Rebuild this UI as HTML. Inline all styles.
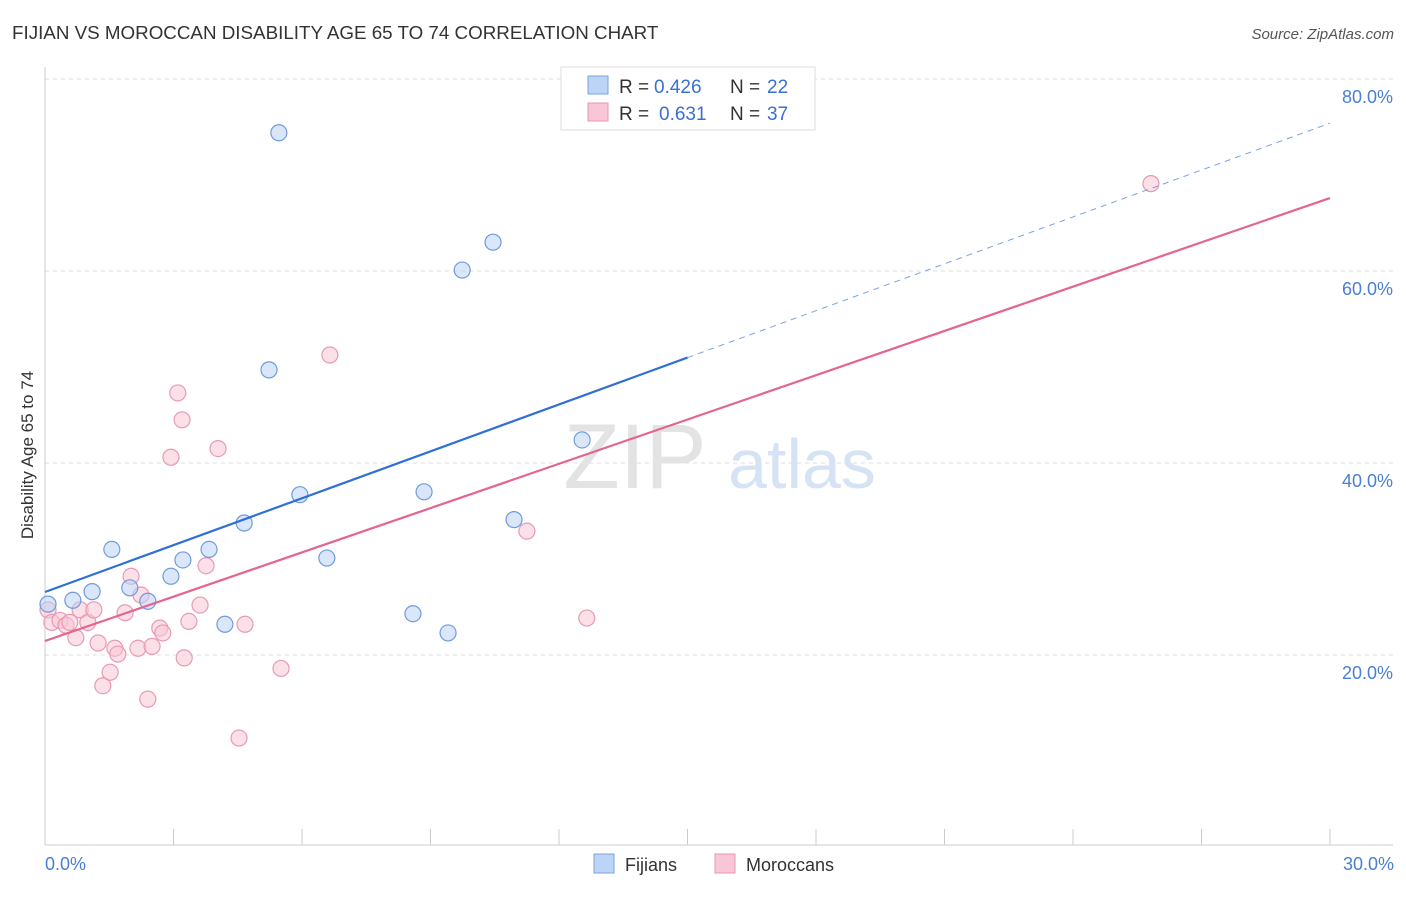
<!DOCTYPE html>
<html><head><meta charset="utf-8"><style>
body{margin:0;background:#fff;font-family:"Liberation Sans",sans-serif}
svg text{font-family:"Liberation Sans",sans-serif}
</style></head><body>
<svg id="chart" width="1406" height="892" xmlns="http://www.w3.org/2000/svg">
<text x="12" y="39" font-size="18.8" fill="#333">FIJIAN VS MOROCCAN DISABILITY AGE 65 TO 74 CORRELATION CHART</text>
<text x="1394" y="39" font-size="15" fill="#555" font-style="italic" text-anchor="end">Source: ZipAtlas.com</text>
<g id="grid"></g>
<text x="635" y="488" font-size="92" fill="#e3e3e3" font-family="Liberation Serif" text-anchor="middle">ZIP</text>
<text x="802" y="488" font-size="70" fill="#d6e3f5" text-anchor="middle">atlas</text>
<g id="marks"></g>
<text x="33" y="455" font-size="17" fill="#333" text-anchor="middle" transform="rotate(-90 33 455)">Disability Age 65 to 74</text>
<text x="45" y="870" font-size="18" fill="#4a7fd4">0.0%</text>
<text x="1394" y="870" font-size="18" fill="#4a7fd4" text-anchor="end">30.0%</text>
<g>
<rect x="561" y="67" width="254" height="63" fill="#fff" stroke="#ddd"/>
<rect x="588" y="76" width="20" height="18" fill="#bcd4f5" stroke="#7aa3e0"/>
<rect x="588" y="103" width="20" height="18" fill="#f8c6d6" stroke="#e89ab3"/>
<text x="619" y="93" font-size="19" fill="#333">R =</text>
<text x="654" y="93" font-size="19" fill="#3a70d0">0.426</text>
<text x="730" y="93" font-size="19" fill="#333">N =</text>
<text x="767" y="93" font-size="19" fill="#3a70d0">22</text>
<text x="619" y="120" font-size="19" fill="#333">R =</text>
<text x="659" y="120" font-size="19" fill="#3a70d0">0.631</text>
<text x="730" y="120" font-size="19" fill="#333">N =</text>
<text x="767" y="120" font-size="19" fill="#3a70d0">37</text>
</g>
<g>
<rect x="594" y="854" width="20" height="19" fill="#bcd4f5" stroke="#7aa3e0"/>
<text x="625" y="871" font-size="18" fill="#333">Fijians</text>
<rect x="715" y="854" width="20" height="19" fill="#f8c6d6" stroke="#e89ab3"/>
<text x="746" y="871" font-size="18" fill="#333">Moroccans</text>
</g>
</svg>
<script>
const yTicks=[20,40,60,80];
const yTickLabels=["20.0%","40.0%","60.0%","80.0%"];
const fijX=[0.07,0.65,1.1,1.56,1.98,2.4,2.94,3.22,3.83,4.2,4.65,5.23,5.46,5.95,6.58,8.59,8.85,9.41,9.74,10.46,10.95,12.54];
const fijY=[25.3,25.7,26.6,31.0,27.0,25.6,28.2,29.9,31.0,23.2,33.75,49.7,74.4,36.7,30.1,24.3,37.0,22.3,60.1,63.0,34.1,42.4];
const morX=[0.07,0.16,0.35,0.49,0.58,0.72,0.82,1.0,1.14,1.24,1.35,1.52,1.63,1.7,1.87,2.01,2.17,2.24,2.4,2.5,2.68,2.75,2.94,3.1,3.2,3.25,3.36,3.62,3.76,4.04,4.53,4.67,5.51,6.65,11.25,12.65,25.82];
const morY=[24.7,23.4,23.6,23.1,23.4,21.8,24.7,23.4,24.7,21.25,16.8,18.2,20.7,20.1,24.4,28.2,20.7,26.25,15.4,20.9,22.8,22.3,40.6,47.3,44.5,19.7,23.5,25.2,29.3,41.5,11.35,23.2,18.6,51.25,32.9,23.85,69.1];
const fijLine=[26.56,75.4];
const fijSolidEnd=15;
const morLine=[21.46,67.6];
const NS="http://www.w3.org/2000/svg";
const xs=v=>45+v/30*1285, ys=v=>847-v*9.6;
function mk(t,a,p){const e=document.createElementNS(NS,t);for(const k in a)e.setAttribute(k,a[k]);p.appendChild(e);return e;}
const grid=document.getElementById('grid'),marks=document.getElementById('marks');
yTicks.forEach((t,i)=>{
 const l=mk('line',{x1:45,x2:1393,y1:ys(t),y2:ys(t),stroke:'#ddd','stroke-dasharray':'4,4'},grid);
 
 
 const tx=mk('text',{x:1393,y:ys(t)+24,'font-size':18,fill:'#4a7fd4','text-anchor':'end'},grid);
 tx.textContent=yTickLabels[i];
 
 
});
const ax=mk('line',{x1:45,x2:45,y1:67,y2:845,stroke:'#ccc'},grid);


const bx=mk('line',{x1:45,x2:1393,y1:845,y2:845,stroke:'#ccc'},grid);


for(let i=0;i<=10;i++){const t=mk('line',{x1:xs(i*3),x2:xs(i*3),y1:829,y2:845,stroke:'#ccc'},grid);
 
 }
function dots(X,Y,fill,stroke,name){X.forEach((x,i)=>{const c=mk('circle',{cx:xs(x),cy:ys(Y[i]),r:8,fill:fill,stroke:stroke,'stroke-width':1.2,'fill-opacity':0.55},marks);
 
 });}
dots(morX,morY,'#f8c6d6','#e89ab3','moroccan-point');
dots(fijX,fijY,'#bcd4f5','#6f9bdc','fijian-point');
const fm=fijLine[0]+(fijLine[1]-fijLine[0])*fijSolidEnd/30;
const l1=mk('line',{x1:xs(0),y1:ys(fijLine[0]),x2:xs(fijSolidEnd),y2:ys(fm),stroke:'#2f6fd6','stroke-width':2.2},marks);


const l2=mk('line',{x1:xs(fijSolidEnd),y1:ys(fm),x2:xs(30),y2:ys(fijLine[1]),stroke:'#7aa3e0','stroke-width':1,'stroke-dasharray':'6,5'},marks);


const l3=mk('line',{x1:xs(0),y1:ys(morLine[0]),x2:xs(30),y2:ys(morLine[1]),stroke:'#e4658f','stroke-width':2.2},marks);


</script>
</body></html>
